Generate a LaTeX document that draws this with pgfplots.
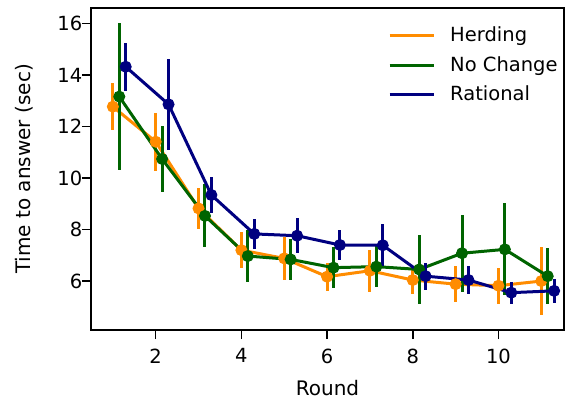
\documentclass[border=0pt]{standalone}
\usepackage{pgfplots}
\pgfplotsset{compat=1.18}
\usepackage{pgfplotstable}
\usepackage{fontspec}
\setmainfont{DejaVu Sans}
\definecolor{cherd}{RGB}{255,140,0}
\definecolor{cnoch}{RGB}{0,100,0}
\definecolor{crat}{RGB}{0,0,128}

\pgfplotstableread{
x y e
1 12.77 0.90
2 11.41 1.12
3 8.82 0.81
4 7.20 0.70
5 6.88 0.83
6 6.17 0.55
7 6.40 0.82
8 6.04 0.55
9 5.88 0.70
10 5.82 0.70
11 6.00 1.32
}\herding
\pgfplotstableread{
x y e
1.15 13.16 2.84
2.15 10.74 1.28
3.15 8.53 1.22
4.15 6.97 1.02
5.15 6.84 0.81
6.15 6.52 0.80
7.15 6.56 0.80
8.15 6.45 1.34
9.15 7.08 1.50
10.15 7.23 1.79
11.15 6.19 1.09
}\nochange
\pgfplotstableread{
x y e
1.3 14.32 0.93
2.3 12.86 1.76
3.3 9.34 0.71
4.3 7.83 0.57
5.3 7.76 0.67
6.3 7.40 0.58
7.3 7.39 0.82
8.3 6.19 0.53
9.3 6.04 0.54
10.3 5.55 0.43
11.3 5.62 0.47
}\rational

\begin{document}
\fontsize{19.5}{23}\selectfont
\begin{tikzpicture}
\useasboundingbox (-91pt,-70pt) rectangle (474pt,330pt);
\begin{axis}[
  at={(0pt,0pt)}, anchor=south west,
  scale only axis, width=473pt, height=322pt,
  xmin=0.49, xmax=11.53, ymin=4.1, ymax=16.6,
  xtick={2,4,6,8,10}, ytick={6,8,10,12,14,16},
  tick align=outside, tick pos=left,
  major tick length=9pt,
  every tick/.style={black, line width=1.5pt},
  axis line style={line width=1.5pt, black},
  /pgf/number format/assume math mode=true,
  ticklabel style={font=\fontsize{19.5}{23}\selectfont},
  yticklabel style={xshift=7pt},
  xticklabel style={yshift=-3pt},
  label style={font=\fontsize{20}{23}\selectfont},
  xlabel={Round}, ylabel={Time to answer (sec)},
  xlabel style={yshift=-4pt},
  ylabel style={yshift=11pt},
  legend style={draw=none, fill=none, at={(0.628,0.949)}, anchor=north west,
    font=\fontsize{19.5}{23}\selectfont, row sep=8pt,
    inner sep=0pt},
  legend cell align=left,
  legend image code/.code={\draw[#1, line width=3pt] (0pt,0pt) -- (44pt,0pt); \path (57pt,0pt);},
  every axis plot/.append style={line width=3pt, mark=*, mark size=5.5pt},
  error bars/y dir=both, error bars/y explicit,
  error bars/error mark=none,
]
\addplot[color=cherd, mark options={fill=cherd, draw=cherd, line width=1pt}, error bars/error bar style={line width=3pt, cherd}]
  table[x=x, y=y, y error=e] {\herding};
\addlegendentry{Herding}
\addplot[color=cnoch, mark options={fill=cnoch, draw=cnoch, line width=1pt}, error bars/error bar style={line width=3pt, cnoch}]
  table[x=x, y=y, y error=e] {\nochange};
\addlegendentry{No Change}
\addplot[color=crat, mark options={fill=crat, draw=crat, line width=1pt}, error bars/error bar style={line width=3pt, crat}]
  table[x=x, y=y, y error=e] {\rational};
\addlegendentry{Rational}
\end{axis}
\end{tikzpicture}
\end{document}
